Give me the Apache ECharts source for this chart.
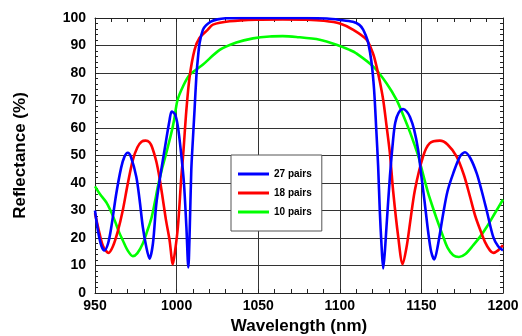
<!DOCTYPE html>
<html><head><meta charset="utf-8">
<script src="https://cdn.jsdelivr.net/npm/echarts@6/dist/echarts.min.js"></script>
<style>html,body{margin:0;padding:0;background:#fff}#c{width:522px;height:336px}</style>
</head><body><div id="c"></div>
<script>
const seriesNames = ['27 pairs', '18 pairs', '10 pairs'];
const xTicks = [950, 1000, 1050, 1100, 1150, 1200];
const yTicks = [0, 10, 20, 30, 40, 50, 60, 70, 80, 90, 100];

const wl27 = [950, 952, 954, 955.8, 958, 960, 963, 966, 968, 970.1, 972, 975.3, 977.3, 979.3, 981.4, 983.4, 985.5, 987.5, 990, 992.6, 995.7, 997, 999, 1000.8, 1002.9, 1004.5, 1006, 1007.2, 1008, 1009, 1010, 1011, 1012.1, 1013, 1014.1, 1016.1, 1018, 1021, 1025, 1030, 1040, 1060, 1080, 1092, 1100, 1108, 1112, 1114.3, 1116, 1117.4, 1119.4, 1121, 1122.3, 1123.5, 1124.5, 1125.6, 1126.6, 1127.6, 1128.6, 1130.7, 1132.7, 1134, 1136, 1138.8, 1141, 1143, 1145.5, 1148, 1150.1, 1152, 1154.2, 1156, 1157.9, 1160, 1163.4, 1166, 1169.5, 1173.6, 1176.7, 1180, 1183.9, 1187, 1190, 1194, 1197, 1200];
const r27 = [30, 22, 17, 15.5, 18, 24, 36, 45.5, 49.5, 51, 49.5, 42.3, 34, 24, 16.8, 12.5, 18, 32, 42.5, 52, 62.9, 66, 65, 60.5, 50, 40, 24, 9.3, 22, 44.7, 56, 66.6, 78.7, 85, 90.9, 95.7, 97.3, 98.7, 99.5, 99.9, 100, 100, 100, 99.8, 99.3, 98.6, 97.5, 95.8, 93.5, 91, 84, 74, 60, 46, 30, 17, 8.9, 15, 24, 42.3, 56, 62, 65.5, 66.9, 66, 64, 59.5, 52, 42, 33, 22, 15, 12.2, 17, 29, 37, 43.5, 49.6, 51.2, 49, 43.5, 37, 30, 20.4, 17, 15.5];

const wl18 = [950, 952.8, 955, 958.3, 961, 964, 967, 970, 973.2, 976, 978.5, 981, 983.4, 985, 987.5, 989.5, 991.6, 993.5, 995.7, 997.7, 999, 1000.8, 1002.9, 1004, 1006, 1008, 1011, 1014, 1019, 1022.3, 1032.5, 1049, 1065, 1080, 1090, 1100, 1108, 1116.4, 1120.4, 1122.5, 1124.5, 1126.6, 1128.6, 1130.7, 1132.7, 1135.8, 1138.5, 1141, 1143, 1146, 1151, 1155, 1161.3, 1166, 1171.6, 1176, 1179.8, 1183, 1186, 1189, 1192, 1194, 1197, 1200];
const r18 = [29, 21.6, 17, 14.6, 17, 22.5, 30, 39.5, 48.4, 53, 55, 55.4, 54.8, 53, 48, 42, 34, 26.5, 19.2, 10.5, 15, 24, 42.3, 50, 66.6, 78.7, 88.4, 92.7, 95.7, 97.6, 98.8, 99.4, 99.5, 99.4, 99, 98, 95.8, 92.1, 87, 82.4, 77, 70.2, 61, 50.8, 37, 20.4, 10.5, 17, 25.3, 37.4, 49.6, 54.4, 55.4, 54, 49.6, 43, 35, 28, 23, 18.5, 15.5, 14.6, 15.5, 17.4];

const wl10 = [950, 953, 956.9, 959.5, 962, 964.5, 967, 970, 973.2, 976, 979.3, 982, 984.5, 986.5, 988.5, 991, 993.5, 996.7, 998.5, 1000.5, 1003.9, 1008, 1016, 1026.4, 1036.6, 1046.8, 1057, 1065, 1073.4, 1087.7, 1098, 1106, 1110, 1120.4, 1128.6, 1134.8, 1140, 1143, 1146, 1148, 1150, 1152, 1154.2, 1156.5, 1159.3, 1163.4, 1166, 1169.5, 1173, 1177, 1181.8, 1186, 1190, 1195, 1200];
const r10 = [38.8, 36, 33, 30, 26.5, 22.5, 19.2, 15.5, 13.4, 14.5, 18, 22.5, 27.1, 32.5, 38.6, 45, 50.5, 58, 63, 70, 75.1, 79.3, 83, 88.4, 91.1, 92.6, 93.3, 93.4, 93.1, 92.1, 90.3, 88.4, 87.2, 82.4, 76.3, 70.2, 63, 58.5, 53.5, 50, 45.5, 41, 36.2, 32, 27.1, 20.4, 16.5, 13.7, 13.1, 14.2, 17.4, 20.5, 24, 29, 34];

const zip = (a, b) => a.map((v, i) => [v, b[i]]);
const FONT = "'Liberation Sans', Arial, sans-serif";
const xMin = xTicks[0], xMax = xTicks[xTicks.length - 1], xInt = xTicks[1] - xTicks[0];
const yMin = yTicks[0], yMax = yTicks[yTicks.length - 1], yInt = yTicks[1] - yTicks[0];

const axisLineStyle = { color: '#222', width: 1 };
function xAx(pos, labels) {
  return {
    type: 'value', position: pos, min: xMin, max: xMax, interval: xInt,
    axisLine: { show: true, onZero: false, lineStyle: axisLineStyle },
    axisTick: { show: true, inside: true, length: 4, lineStyle: axisLineStyle },
    minorTick: { show: true, splitNumber: 5, length: 4, lineStyle: axisLineStyle },
    splitLine: { show: labels, lineStyle: { color: '#333', width: 1 } },
    axisLabel: { show: labels, color: '#000', fontFamily: FONT, fontWeight: 'bold', fontSize: 14, margin: 6,
      formatter: v => String(v) },
    name: labels ? 'Wavelength (nm)' : '', nameLocation: 'middle', nameGap: 25,
    nameTextStyle: { color: '#000', fontFamily: FONT, fontWeight: 'bold', fontSize: 17 }
  };
}
function yAx(pos, labels) {
  return {
    type: 'value', position: pos, min: yMin, max: yMax, interval: yInt,
    axisLine: { show: true, onZero: false, lineStyle: axisLineStyle },
    axisTick: { show: true, inside: true, length: 4, lineStyle: axisLineStyle },
    minorTick: { show: true, splitNumber: 5, length: 3, lineStyle: axisLineStyle },
    splitLine: { show: labels, lineStyle: { color: '#333', width: 1 } },
    axisLabel: { show: labels, color: '#000', fontFamily: FONT, fontWeight: 'bold', fontSize: 14, margin: 9,
      formatter: v => String(v) },
    name: labels ? 'Reflectance (%)' : '', nameLocation: 'middle', nameGap: 66,
    nameTextStyle: { color: '#000', fontFamily: FONT, fontWeight: 'bold', fontSize: 17 }
  };
}

const chart = echarts.init(document.getElementById('c'), null, { renderer: 'canvas' });
const colors = ['#0000ff', '#ff0000', '#00ff00'];
const mk = (i, data, z) => ({
  name: seriesNames[i], type: 'line', data, xAxisIndex: 0, yAxisIndex: 0,
  showSymbol: false, smooth: 0.3, z,
  lineStyle: { color: colors[i], width: 2.6 }, itemStyle: { color: colors[i] }
});
chart.setOption({
  animation: false,
  backgroundColor: '#fff',
  grid: { left: 95, right: 19, top: 18, bottom: 43, containLabel: false, outerBoundsMode: 'none' },
  xAxis: [xAx('bottom', true), xAx('top', false)],
  yAxis: [yAx('left', true), yAx('right', false)],
  legend: {
    data: seriesNames, orient: 'vertical', left: 231, top: 155,
    width: 92, itemWidth: 31, itemHeight: 3, itemGap: 7,
    padding: [13, 10, 13, 7], borderColor: '#555', borderWidth: 1, backgroundColor: '#fff',
    icon: 'rect',
    textStyle: { color: '#000', fontFamily: FONT, fontWeight: 'bold', fontSize: 10, lineHeight: 12 }
  },
  series: [mk(2, zip(wl10, r10), 2), mk(1, zip(wl18, r18), 3), mk(0, zip(wl27, r27), 4)]
});
</script></body></html>
